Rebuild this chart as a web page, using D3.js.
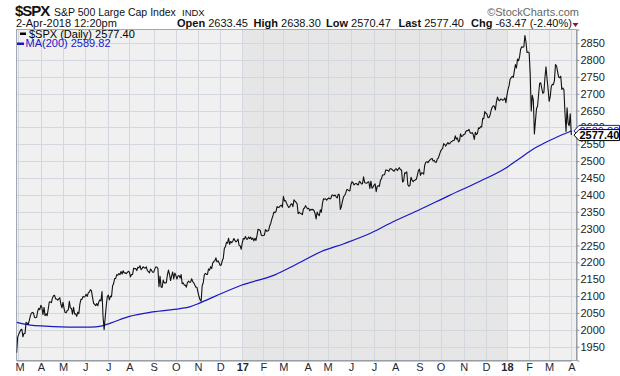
<!DOCTYPE html>
<html>
<head>
<meta charset="utf-8">
<script src="https://cdn.jsdelivr.net/npm/d3@7"></script>
<style>
  body { margin: 0; background: #fff; }
  svg { display: block; font-family: "Liberation Sans", Arial, sans-serif; }
</style>
</head>
<body>
<div id="plot"></div>
<script>
var width = 620;
var height = 376;

// daily closes, one array per month (Feb 29 2016 .. Apr 2 2018)
var spxByMonth = [
  [1932.23],
  [1978.35,1986.45,1993.40,1999.99,2001.76,1979.26,1989.26,1989.57,2022.19,2019.64,2015.93,2027.22,2040.59,2049.58,2051.60,2049.80,2036.71,2035.94,2037.05,2055.01,2063.95,2059.74],
  [2072.78,2066.13,2045.17,2066.66,2041.91,2047.60,2041.99,2061.72,2082.42,2082.78,2080.73,2094.34,2100.80,2102.40,2091.48,2091.58,2087.79,2091.70,2095.15,2075.81,2065.30],
  [2081.43,2063.37,2051.12,2050.63,2057.14,2058.69,2084.39,2064.46,2064.11,2046.61,2066.66,2047.21,2047.63,2040.04,2052.32,2048.04,2076.06,2090.54,2090.10,2099.06,2096.95],
  [2099.33,2105.26,2099.13,2109.41,2112.13,2119.12,2115.48,2096.07,2079.06,2075.32,2071.50,2077.99,2071.22,2083.25,2088.90,2085.45,2113.32,2037.41,2000.54,2036.09,2070.77,2098.86],
  [2102.95,2088.55,2099.73,2097.90,2129.90,2137.16,2152.14,2152.43,2163.75,2161.74,2166.89,2163.78,2173.02,2165.17,2175.03,2168.48,2169.18,2166.58,2170.06,2173.60],
  [2170.84,2157.03,2163.79,2164.25,2182.87,2180.89,2181.74,2175.49,2185.79,2184.05,2190.15,2178.15,2182.22,2187.02,2183.87,2182.64,2186.90,2175.44,2172.47,2169.04,2180.38,2176.12,2170.95],
  [2170.86,2179.98,2186.48,2186.16,2181.30,2127.81,2159.04,2127.02,2125.77,2147.26,2139.16,2139.12,2139.76,2163.12,2177.18,2164.69,2146.10,2159.93,2171.37,2151.13,2168.27],
  [2161.20,2150.49,2159.73,2160.77,2153.74,2163.66,2136.73,2139.18,2132.55,2132.98,2126.50,2139.60,2144.29,2141.34,2141.16,2151.33,2143.16,2139.43,2133.04,2126.41,2126.15],
  [2111.72,2097.94,2088.66,2085.18,2131.52,2139.56,2163.26,2167.48,2164.45,2164.20,2180.39,2176.94,2187.12,2181.90,2198.18,2202.94,2204.72,2213.35,2201.72,2204.66,2198.81],
  [2191.08,2191.95,2204.71,2212.23,2241.35,2246.19,2259.53,2256.96,2271.72,2253.28,2262.03,2258.07,2262.53,2270.76,2265.18,2260.96,2263.79,2268.88,2249.92,2249.26,2238.83],
  [2257.83,2270.75,2269.00,2276.98,2268.90,2268.90,2275.32,2270.44,2274.64,2267.89,2271.89,2263.69,2271.31,2265.20,2280.07,2298.37,2296.68,2294.69,2280.90,2278.87],
  [2279.55,2280.85,2297.42,2292.56,2293.08,2294.67,2307.87,2316.10,2328.25,2337.58,2349.25,2347.22,2351.16,2365.38,2362.82,2363.81,2367.34,2369.75,2363.64],
  [2395.96,2381.92,2383.12,2375.31,2368.39,2362.98,2364.87,2372.60,2373.47,2365.45,2385.26,2381.38,2378.25,2373.47,2344.02,2348.45,2345.96,2343.98,2341.59,2358.57,2361.13,2368.06,2362.72],
  [2358.84,2360.16,2352.95,2357.49,2355.54,2357.16,2353.78,2344.93,2328.95,2349.01,2342.19,2338.17,2355.84,2348.69,2374.15,2388.61,2387.45,2388.77,2384.20],
  [2388.33,2391.17,2388.13,2389.52,2399.29,2399.38,2396.92,2399.63,2394.44,2390.90,2402.32,2400.67,2357.03,2365.72,2381.73,2394.02,2398.42,2404.39,2415.07,2415.82,2412.91,2411.80],
  [2430.06,2439.07,2436.10,2429.33,2433.14,2433.79,2431.77,2429.39,2440.35,2437.92,2432.46,2433.15,2453.46,2437.03,2435.61,2434.50,2438.30,2439.07,2419.38,2440.69,2419.70,2423.41],
  [2429.01,2432.54,2409.75,2425.18,2427.43,2425.53,2443.25,2447.83,2459.27,2459.14,2460.61,2473.83,2473.45,2472.54,2469.91,2477.13,2477.83,2475.42,2472.10,2470.30],
  [2476.35,2477.57,2472.16,2476.83,2480.91,2474.92,2474.02,2438.21,2441.32,2465.84,2464.61,2468.11,2430.01,2425.55,2428.37,2452.51,2444.04,2438.97,2443.05,2444.24,2446.30,2457.59,2471.65],
  [2476.55,2457.85,2465.54,2465.10,2461.43,2488.11,2496.48,2498.37,2495.62,2500.23,2503.87,2506.65,2508.24,2500.60,2502.22,2496.66,2496.84,2507.04,2510.06,2519.36],
  [2529.12,2534.58,2537.74,2552.07,2549.33,2544.73,2550.64,2555.24,2550.93,2553.17,2557.64,2559.36,2561.26,2562.10,2575.21,2564.98,2569.13,2557.15,2560.40,2581.07,2572.83,2575.26],
  [2579.36,2579.85,2587.84,2591.13,2590.64,2594.38,2584.62,2582.30,2584.84,2578.87,2564.62,2585.64,2578.85,2582.14,2599.03,2597.08,2602.42,2601.42,2627.04,2626.07,2647.58],
  [2642.22,2639.44,2629.57,2629.27,2636.98,2651.50,2659.99,2664.11,2662.85,2652.01,2675.81,2690.16,2681.47,2679.25,2684.57,2683.34,2680.50,2682.62,2687.54,2673.61],
  [2695.81,2713.06,2723.99,2743.15,2747.71,2751.29,2748.23,2767.56,2786.24,2776.42,2802.56,2798.03,2810.30,2832.97,2839.13,2837.54,2839.25,2872.87,2853.53,2822.43,2823.81],
  [2821.98,2762.13,2648.94,2695.14,2681.66,2581.00,2619.55,2656.00,2662.94,2698.63,2731.20,2732.22,2716.26,2701.33,2703.96,2747.30,2779.60,2744.28,2713.83],
  [2677.67,2691.25,2720.94,2728.12,2726.80,2738.97,2786.57,2783.02,2765.31,2749.48,2747.33,2752.01,2712.92,2716.94,2711.93,2643.69,2588.26,2658.55,2612.62,2605.00,2640.87],
  [2577.40]
];

// labels for months 1.. of spxByMonth (first array is Feb 2016, no label)
var monthLabels = ['M','A','M','J','J','A','S','O','N','D','17','F','M','A','M','J','J','A','S','O','N','D','18','F','M','A'];

// 200 day moving average: [bar index, value]
var ma200 = [
  [0,2022],[13,2014],[27,2011],[55,2008],[70,2008],[80,2011],[89,2020],[107,2040],
  [129,2053],[155,2063],[164,2068],[174,2080],[188,2099],[213,2132],[245,2163],
  [264,2192],[289,2232],[311,2256],[336,2287],[358,2322],[382,2356],[410,2398],
  [439,2440],[464,2480],[477,2508],[489,2534],[500,2553],[512,2571],[526,2589.82]
];

var yTicks = [1950,2000,2050,2100,2150,2200,2250,2300,2350,2400,2450,2500,2550,2600,2650,2700,2750,2800,2850];

var quote = [['Open','2633.45'],['High','2638.30'],['Low','2570.47'],['Last','2577.40'],['Chg','-63.47 (-2.40%)']];

function main() {
    var closes = spxByMonth.flat();
    var monthStarts = [];
    var n = 0;
    spxByMonth.forEach(function(m, i) {
        if (i > 0) monthStarts.push(n);
        n += m.length;
    });

    var pLeft = 16.5, pRight = 576.5, pTop = 29.5, pBottom = 360.5;

    var x_scale = d3.scaleLinear().domain([0, closes.length - 1]).range([16.6, 571.3]);
    var y_scale = d3.scaleLinear().domain([1909, 2890.5]).range([pBottom, pTop]);

    var canvas = d3.select('#plot')
        .append('svg')
        .attr('width', width)
        .attr('height', height);

    // plot background, 2017 shaded
    canvas.append('rect')
        .attr('x', pLeft).attr('y', pTop)
        .attr('width', pRight - pLeft).attr('height', pBottom - pTop)
        .attr('fill', '#f0f0f0');

    var i17 = monthStarts[monthLabels.indexOf('17')];
    var i18 = monthStarts[monthLabels.indexOf('18')];
    canvas.append('rect')
        .attr('x', x_scale(i17)).attr('y', pTop)
        .attr('width', x_scale(i18) - x_scale(i17)).attr('height', pBottom - pTop)
        .attr('fill', '#e6e6e6');

    // grid
    canvas.append('g').selectAll('line')
        .data(yTicks)
        .enter().append('line')
        .attr('x1', pLeft).attr('x2', pRight)
        .attr('y1', function(d) { return Math.round(y_scale(d)) + 0.5; })
        .attr('y2', function(d) { return Math.round(y_scale(d)) + 0.5; })
        .attr('stroke', '#d3d7de');

    canvas.append('g').selectAll('line')
        .data(monthStarts)
        .enter().append('line')
        .attr('x1', function(d) { return Math.round(x_scale(d)) + 0.5; })
        .attr('x2', function(d) { return Math.round(x_scale(d)) + 0.5; })
        .attr('y1', pTop).attr('y2', pBottom)
        .attr('stroke', '#d3d7de');

    // frame
    canvas.append('rect')
        .attr('x', pLeft).attr('y', pTop)
        .attr('width', pRight - pLeft).attr('height', pBottom - pTop)
        .attr('fill', 'none')
        .attr('stroke', '#a3a8b0');

    canvas.append('clipPath').attr('id', 'clip')
        .append('rect')
        .attr('x', pLeft).attr('y', pTop)
        .attr('width', pRight - pLeft).attr('height', pBottom - pTop);

    var maLine = d3.line()
        .x(function(d) { return x_scale(d[0]); })
        .y(function(d) { return y_scale(d[1]); })
        .curve(d3.curveMonotoneX);

    canvas.append('path')
        .datum(ma200)
        .attr('clip-path', 'url(#clip)')
        .attr('d', maLine)
        .attr('fill', 'none')
        .attr('stroke', '#1818c8')
        .attr('stroke-width', 1.2);

    var priceLine = d3.line()
        .x(function(d, i) { return x_scale(i); })
        .y(function(d) { return y_scale(d); });

    canvas.append('path')
        .datum(closes)
        .attr('clip-path', 'url(#clip)')
        .attr('d', priceLine)
        .attr('fill', 'none')
        .attr('stroke', '#111')
        .attr('stroke-width', 1.1)
        .attr('stroke-linejoin', 'round');

    // right axis
    var y_axis = d3.axisRight(y_scale).tickValues(yTicks).tickFormat(d3.format('d')).tickSize(3).tickPadding(1);
    var gy = canvas.append('g')
        .attr('transform', 'translate(' + pRight + ',0)')
        .call(y_axis);
    gy.select('.domain').attr('stroke', '#8c939c');
    gy.selectAll('.tick line').attr('stroke', '#8c939c');
    gy.selectAll('text').attr('font-size', 11).attr('fill', '#222').attr('font-family', null);

    // bottom axis
    var x_axis = d3.axisBottom(x_scale)
        .tickValues(monthStarts)
        .tickFormat(function(d, i) { return monthLabels[i]; })
        .tickSize(0).tickPadding(3);
    var gx = canvas.append('g')
        .attr('transform', 'translate(0,' + pBottom + ')')
        .call(x_axis);
    gx.select('.domain').attr('stroke', '#8c939c');
    gx.selectAll('text')
        .attr('font-size', 11).attr('fill', '#1e2838').attr('font-family', null)
        .attr('font-weight', function(d, i) { return monthLabels[i].length > 1 ? 'bold' : 'normal'; })
        .attr('x', function(d) { return Math.max(0, 19.7 - x_scale(d)); });
    gx.selectAll('.tick').append('rect')
        .attr('x', -0.5).attr('y', 13).attr('width', 1).attr('height', 1)
        .attr('fill', '#b8bcc4');

    // last value tags
    function tag(val, label, color, bold) {
        var yc = y_scale(val);
        canvas.append('path')
            .attr('d', 'M574,' + yc + 'L579,' + (yc - 5.5) + 'L619.5,' + (yc - 5.5) + 'L619.5,' + (yc + 5.5) + 'L579,' + (yc + 5.5) + 'Z')
            .attr('fill', '#fff')
            .attr('stroke', color);
        canvas.append('text')
            .attr('x', 579.5).attr('y', yc + 4)
            .attr('font-size', 11).attr('font-weight', bold ? 'bold' : 'normal')
            .attr('fill', color)
            .text(label);
    }
    var lastMa = ma200[ma200.length - 1][1];
    var lastClose = closes[closes.length - 1];
    tag(lastMa, lastMa.toFixed(2), '#1818c8', false);
    tag(lastClose, lastClose.toFixed(2), '#000', true);

    // legend
    canvas.append('rect').attr('x', 20).attr('y', 32.5).attr('width', 6).attr('height', 2.5).attr('fill', '#000');
    canvas.append('text').attr('x', 29).attr('y', 37.5).attr('font-size', 11).attr('fill', '#000')
        .text('$SPX (Daily) ' + lastClose.toFixed(2));
    canvas.append('rect').attr('x', 17).attr('y', 42.5).attr('width', 7).attr('height', 2.5).attr('fill', '#1818c8');
    canvas.append('text').attr('x', 25.5).attr('y', 46.5).attr('font-size', 11).attr('fill', '#1818c8')
        .text('MA(200) ' + lastMa.toFixed(2));

    // header
    canvas.append('text').attr('x', 15).attr('y', 16)
        .attr('font-size', 15).attr('font-weight', 'bold').attr('fill', '#111')
        .attr('letter-spacing', -1)
        .text('$SPX');
    canvas.append('text').attr('x', 54).attr('y', 15.5)
        .attr('font-size', 10.5).attr('fill', '#111')
        .text('S&P 500 Large Cap Index');
    canvas.append('text').attr('x', 182).attr('y', 15.5)
        .attr('font-size', 9.5).attr('fill', '#111')
        .text('INDX');
    canvas.append('text').attr('x', 579).attr('y', 16)
        .attr('font-size', 11).attr('fill', '#666').attr('text-anchor', 'end')
        .text('\u00a9StockCharts.com');
    canvas.append('text').attr('x', 16).attr('y', 26.5)
        .attr('font-size', 11).attr('fill', '#111')
        .text('2-Apr-2018 12:20pm');

    var quoteX = [177, 253.5, 326, 398.5, 471];
    quote.forEach(function(q, i) {
        var t = canvas.append('text').attr('x', quoteX[i]).attr('y', 26.5).attr('font-size', 11).attr('fill', '#111');
        t.append('tspan').attr('font-weight', 'bold').text(q[0]);
        t.append('tspan').text(' ' + q[1]);
    });
    canvas.append('path')
        .attr('d', 'M572.5,23L578.5,23L575.5,27Z')
        .attr('fill', '#a0102a');
}

main();
</script>
</body>
</html>
